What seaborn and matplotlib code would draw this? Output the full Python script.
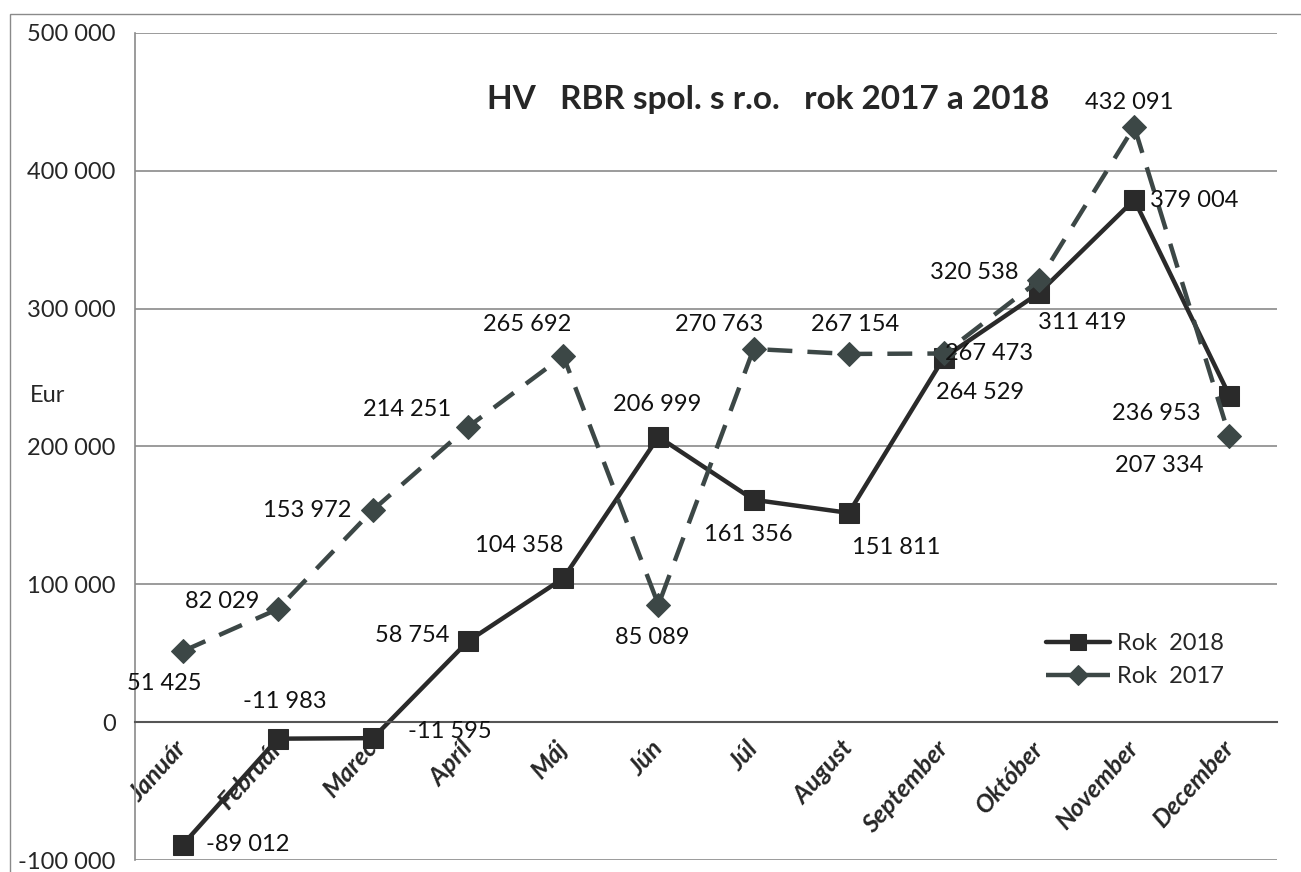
import numpy as np
import matplotlib
matplotlib.use('Agg')
import matplotlib.pyplot as plt
import matplotlib.patches as mpatches
import seaborn as sns

months = ['Január', 'Február', 'Marec', 'Apríl', 'Máj', 'Jún', 'Júl',
          'August', 'September', 'Október', 'November', 'December']
rok_2018 = [-89012, -11983, -11595, 58754, 104358, 206999, 161356,
            151811, 264529, 311419, 379004, 236953]
rok_2017 = [51425, 82029, 153972, 214251, 265692, 85089, 270763,
            267154, 267473, 320538, 432091, 207334]
y_ticks = [-100000, 0, 100000, 200000, 300000, 400000, 500000]

# label offsets in pixels (dx, dy) from each point
off_2018 = [(65, 0), (7, 37), (77, 7), (-56, 6), (-44, 33), (-1, 32),
            (-5, -35), (47, -35), (36, -35), (43, -30), (60, -1), (-73, -18)]
off_2017 = [(-18, -32), (-56, 8), (-66, -1), (-61, 17), (-36, 31), (-6, -33),
            (-34, 24), (6, 29), (45, 0), (-65, 8), (-5, 24), (-70, -29)]


def fmt(v):
    s = f"{abs(v):,}".replace(",", " ")
    return ("-" if v < 0 else "") + s


sns.set_style('white')
plt.rcParams['font.family'] = ['Lato', 'DejaVu Sans']

fig = plt.figure(figsize=(13.01, 8.72), dpi=100)
ax = fig.add_axes([135 / 1301, 1 - 860 / 872, 1142 / 1301, 827 / 872])

x = np.arange(len(months))
c18 = '#2a2a2a'
c17 = '#3c4746'

sns.lineplot(x=x, y=rok_2018, ax=ax, color=c18, linewidth=3.2, marker='s',
             markersize=14, markeredgecolor=c18, label='Rok  2018')
sns.lineplot(x=x, y=rok_2017, ax=ax, color=c17, linewidth=3.2, marker='D',
             markersize=12, markeredgecolor=c17, linestyle=(0, (5.6, 3.4)),
             label='Rok  2017')

for xi, v, (dx, dy) in zip(x, rok_2018, off_2018):
    ax.annotate(fmt(v), (xi, v), xytext=(dx, dy), textcoords='offset pixels',
                ha='center', va='center', fontsize=17, color='#111111')
for xi, v, (dx, dy) in zip(x, rok_2017, off_2017):
    ax.annotate(fmt(v), (xi, v), xytext=(dx, dy), textcoords='offset pixels',
                ha='center', va='center', fontsize=17, color='#111111')

# spine position first, it resets the tick objects
ax.spines['bottom'].set_position(('data', 0))
ax.spines['bottom'].set_color('#555555')
ax.spines['bottom'].set_linewidth(1.5)
ax.spines['left'].set_color('#8a8a8a')
ax.spines['left'].set_linewidth(1.2)
ax.spines['top'].set_visible(False)
ax.spines['right'].set_visible(False)

ax.set_xlim(-0.5, 11.5)
ax.set_ylim(-100000, 500000)
ax.set_yticks(y_ticks)
ax.set_yticklabels([fmt(t) for t in y_ticks], fontsize=17)
ax.yaxis.grid(True, color='#8a8a8a', linewidth=1.2)
ax.set_axisbelow(True)

ax.set_xticks(x)
ax.set_xticks(np.arange(-0.5, 12, 1), minor=True)
ax.set_xticklabels(months, fontsize=18, fontweight='bold', fontstyle='italic',
                   rotation=48, ha='right', va='center', rotation_mode='anchor')
ax.tick_params(axis='x', which='major', length=0, pad=16)
ax.tick_params(axis='x', which='minor', length=6, width=1, color='#555555',
               direction='out')
ax.tick_params(axis='y', length=8, width=1, color='#8a8a8a', direction='out',
               pad=6)
ax.set_xlabel('')
ax.set_ylabel('')

fig.text(768 / 1301, 1 - 100 / 872, 'HV   RBR spol. s r.o.   rok 2017 a 2018',
         ha='center', va='center', fontsize=24, fontweight='bold')
fig.text(48 / 1301, 1 - 395 / 872, 'Eur', ha='center', va='center', fontsize=17)

leg = ax.legend(loc='upper left', bbox_to_anchor=(1025 / 1301, 1 - 612 / 872),
                bbox_transform=fig.transFigure, frameon=False, fontsize=17,
                handlelength=2.7, handletextpad=0.3, markerscale=0.85,
                labelspacing=0.5)

fig.add_artist(mpatches.Rectangle((10 / 1301, -0.05), 1.0, 1 - 14 / 872 + 0.05,
                                  fill=False, edgecolor='#8a8a8a', linewidth=1,
                                  transform=fig.transFigure, clip_on=False))

fig.savefig('out.png', dpi=100)
